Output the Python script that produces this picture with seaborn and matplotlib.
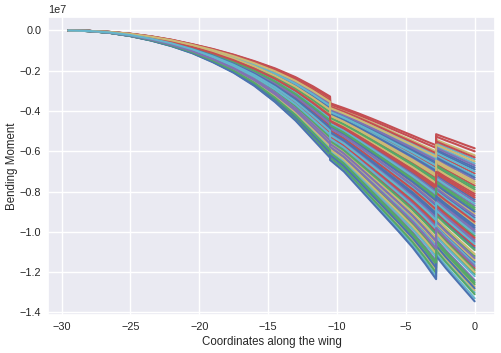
import matplotlib
matplotlib.use("Agg")
import matplotlib.pyplot as plt
import pandas as pd
import seaborn as sns

# stations along the wing (the jumps at -10.5 and -2.8 appear twice)
stations = [-29.5, -28.0, -26.5, -25.0, -23.5, -22.0, -20.5, -19.0, -17.5, -16.0,
            -14.5, -13.0, -11.75, -10.5, -10.5, -9.5, -8.5, -7.5, -6.5, -5.5,
            -4.5, -3.6, -2.8, -2.8, -2.1, -1.4, -0.7, 0.0]

# upper and lower envelope of the bending moment, units of 1e7
upper_env = [0.0, -0.002, -0.007, -0.016, -0.029, -0.046, -0.068, -0.092, -0.120, -0.152,
             -0.188, -0.232, -0.277, -0.328, -0.361, -0.385, -0.410, -0.437, -0.465, -0.494,
             -0.522, -0.548, -0.570, -0.515, -0.533, -0.550, -0.568, -0.585]
lower_env = [0.0, -0.003, -0.012, -0.028, -0.050, -0.078, -0.113, -0.158, -0.210, -0.275,
             -0.355, -0.448, -0.540, -0.632, -0.643, -0.700, -0.775, -0.850, -0.925, -1.000,
             -1.078, -1.158, -1.235, -1.120, -1.180, -1.235, -1.290, -1.345]

# bending moment at the root (x = 0) for each load case, units of 1e7
root_moment = [
    -0.93, -1.21, -0.71, -1.05, -0.62, -1.30, -0.84, -1.12, -0.77, -0.99, -1.27, -0.66,
    -1.08, -0.89, -1.18, -0.74, -0.96, -1.33, -0.69, -1.02, -0.81, -1.24, -0.91, -0.64,
    -1.15, -0.79, -1.07, -0.87, -1.29, -0.72, -0.98, -1.19, -0.60, -0.85, -1.11, -0.94,
    -0.68, -1.26, -0.83, -1.04, -0.76, -1.16, -0.90, -1.31, -0.63, -1.00, -0.80, -1.22,
    -0.73, -1.09, -0.95, -0.67, -1.14, -0.86, -1.28, -0.78, -1.03, -0.92, -1.20, -0.70,
    -1.345, -0.88, -0.585, -1.13, -0.75, -1.06, -0.97, -1.25, -0.82, -1.17, -0.65, -1.01,
]

scale = 1e7

rows = []
top0, bot0 = upper_env[-1], lower_env[-1]
for case, m0 in enumerate(root_moment):
    frac = (m0 - top0) / (bot0 - top0)
    for i, x in enumerate(stations):
        m = upper_env[i] + frac * (lower_env[i] - upper_env[i])
        rows.append({"case": case, "x": x, "moment": m * scale})
df = pd.DataFrame(rows)

sns.set_theme(style="darkgrid")
plt.rcParams["font.family"] = ["Liberation Sans", "DejaVu Sans"]

deep6 = sns.color_palette("deep6")
colors = [deep6[i % 6] for i in range(len(root_moment))]

fig, ax = plt.subplots(figsize=(5.01, 3.53), dpi=100)
fig.subplots_adjust(left=0.096, right=0.988, top=0.952, bottom=0.108)
sns.lineplot(data=df, x="x", y="moment", hue="case", palette=colors,
             estimator=None, sort=False, legend=False, linewidth=1.5, ax=ax)
ax.set_xlabel("Coordinates along the wing", fontsize=8.3, labelpad=3)
ax.set_ylabel("Bending Moment", fontsize=8.3, labelpad=1)
ax.tick_params(labelsize=7.8, length=0, pad=5)
ax.yaxis.get_offset_text().set_fontsize(7.8)
fig.savefig("out.png", dpi=100)
